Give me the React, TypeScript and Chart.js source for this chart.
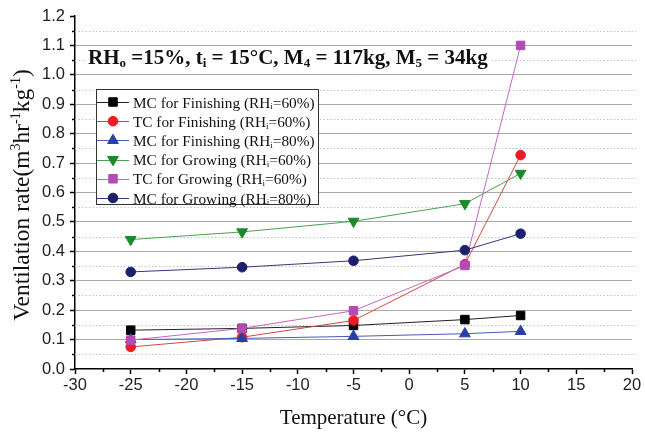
import React, { useEffect, useRef } from 'react';
import { Chart, registerables } from 'chart.js';

Chart.register(...registerables);

// ---------- data ----------
const temperatures = [-25, -15, -5, 5, 10];
const mcFinishing60 = [0.132, 0.138, 0.148, 0.168, 0.182];
const tcFinishing60 = [0.075, 0.108, 0.165, 0.356, 0.727];
const mcFinishing80 = [0.1, 0.104, 0.111, 0.12, 0.128];
const mcGrowing60 = [0.44, 0.466, 0.502, 0.562, 0.665];
const tcGrowing60 = [0.098, 0.138, 0.198, 0.352, 1.1];
const mcGrowing80 = [0.33, 0.346, 0.368, 0.404, 0.46];

const seriesPrefixes = [
  'MC for Finishing (RH',
  'TC for Finishing (RH',
  'MC for Finishing (RH',
  'MC for Growing (RH',
  'TC for Growing (RH',
  'MC for Growing (RH',
];
const seriesSubscript = 'i';
const seriesSuffixes = ['=60%)', '=60%)', '=80%)', '=60%)', '=60%)', '=80%)'];

const xMin = -30;
const xMax = 20;
const xStep = 5;
const yMin = 0;
const yMax = 1.2;
const yStep = 0.1;

const xTitle = 'Temperature (°C)';
type Seg = { t: string; s?: 'sub' | 'sup' };
const yTitle: Seg[] = [
  { t: 'Ventilation rate(m' },
  { t: '3', s: 'sup' },
  { t: 'hr' },
  { t: '-1', s: 'sup' },
  { t: 'kg' },
  { t: '-1', s: 'sup' },
  { t: ')' },
];
const annotation: Seg[] = [
  { t: 'RH' },
  { t: 'o', s: 'sub' },
  { t: ' =15%, t' },
  { t: 'i', s: 'sub' },
  { t: ' = 15°C, M' },
  { t: '4', s: 'sub' },
  { t: ' = 117kg, M' },
  { t: '5', s: 'sub' },
  { t: ' = 34kg' },
];

// ---------- styles ----------
const serif = '"Liberation Serif", "Times New Roman", serif';
const sans = '"Liberation Sans", Arial, sans-serif';

const seriesValues = [mcFinishing60, tcFinishing60, mcFinishing80, mcGrowing60, tcGrowing60, mcGrowing80];
const markerColors = ['#000000', '#ec1c24', '#2b3ea8', '#1b8a2c', '#b24cb4', '#1c1f6c'];
const lineColors = ['#222222', '#cf4a40', '#4a5ab8', '#4f9e52', '#c465c4', '#34387a'];
const pointStyles = ['rect', 'circle', 'triangle', 'triangle', 'rect', 'circle'];
const pointRotations = [0, 0, 0, 180, 0, 0];
const pointRadii = [6, 4.8, 6.2, 6.2, 6, 4.8];

function drawRich(
  ctx: CanvasRenderingContext2D,
  segs: Seg[],
  x: number,
  y: number,
  size: number,
  weight: string,
  align: 'left' | 'center'
) {
  const base = `${weight} ${size}px ${serif}`;
  const small = `${weight} ${Math.round(size * 0.6)}px ${serif}`;
  let w = 0;
  for (const s of segs) {
    ctx.font = s.s ? small : base;
    w += ctx.measureText(s.t).width;
  }
  let cx = align === 'center' ? x - w / 2 : x;
  ctx.textAlign = 'left';
  ctx.textBaseline = 'alphabetic';
  for (const s of segs) {
    ctx.font = s.s ? small : base;
    const dy = s.s === 'sub' ? size * 0.12 : s.s === 'sup' ? -size * 0.4 : 0;
    ctx.fillText(s.t, cx, y + dy);
    cx += ctx.measureText(s.t).width;
  }
  return w;
}

function drawMarker(ctx: CanvasRenderingContext2D, i: number, x: number, y: number) {
  const r = pointRadii[i];
  const style = pointStyles[i];
  ctx.save();
  ctx.fillStyle = markerColors[i];
  ctx.strokeStyle = markerColors[i];
  ctx.lineWidth = 1;
  ctx.beginPath();
  if (style === 'rect') {
    const s = Math.SQRT1_2 * r;
    ctx.rect(x - s, y - s, 2 * s, 2 * s);
  } else if (style === 'circle') {
    ctx.arc(x, y, r, 0, Math.PI * 2);
  } else {
    const rot = (pointRotations[i] * Math.PI) / 180;
    let a = rot;
    ctx.moveTo(x + Math.sin(a) * r, y - Math.cos(a) * r);
    a += (2 * Math.PI) / 3;
    ctx.lineTo(x + Math.sin(a) * r, y - Math.cos(a) * r);
    a += (2 * Math.PI) / 3;
    ctx.lineTo(x + Math.sin(a) * r, y - Math.cos(a) * r);
    ctx.closePath();
  }
  ctx.fill();
  ctx.stroke();
  ctx.restore();
}

const decorPlugin = {
  id: 'decor',
  beforeDatasetsDraw(chart: any) {
    const { ctx, chartArea } = chart;
    const xs = chart.scales.x;
    const ys = chart.scales.y;
    ctx.save();
    // minor dotted grid lines
    ctx.strokeStyle = '#c4c4c4';
    ctx.lineWidth = 1;
    ctx.setLineDash([1.5, 2]);
    for (let v = yMin + yStep / 2; v < yMax; v += yStep) {
      const py = Math.round(ys.getPixelForValue(v)) + 0.5;
      ctx.beginPath();
      ctx.moveTo(chartArea.left, py);
      ctx.lineTo(chartArea.right + 4, py);
      ctx.stroke();
    }
    ctx.setLineDash([]);
    // minor ticks
    ctx.strokeStyle = '#000';
    ctx.lineWidth = 1.5;
    for (let v = yMin + yStep / 2; v < yMax; v += yStep) {
      const py = Math.round(ys.getPixelForValue(v)) + 0.5;
      ctx.beginPath();
      ctx.moveTo(chartArea.left - 3, py);
      ctx.lineTo(chartArea.left, py);
      ctx.stroke();
    }
    for (let v = xMin + xStep / 2; v < xMax; v += xStep) {
      const px = Math.round(xs.getPixelForValue(v)) + 0.5;
      ctx.beginPath();
      ctx.moveTo(px, chartArea.bottom);
      ctx.lineTo(px, chartArea.bottom + 3);
      ctx.stroke();
    }
    ctx.restore();
  },
  afterDraw(chart: any) {
    const { ctx, chartArea } = chart;
    ctx.save();
    // annotation box
    ctx.fillStyle = '#fff';
    ctx.fillRect(86, 48, 406, 23);
    ctx.fillStyle = '#111';
    drawRich(ctx, annotation, 88, 64, 21, 'bold', 'left');

    // legend
    const lx = 96;
    const ly = 89;
    const lw = 222;
    const lh = 115;
    ctx.fillStyle = '#fff';
    ctx.fillRect(lx, ly, lw, lh);
    ctx.strokeStyle = '#333';
    ctx.lineWidth = 1;
    ctx.strokeRect(lx + 0.5, ly + 0.5, lw, lh);
    for (let i = 0; i < seriesPrefixes.length; i++) {
      const cy = ly + 13 + i * 19.2;
      ctx.strokeStyle = lineColors[i];
      ctx.lineWidth = 1;
      ctx.beginPath();
      ctx.moveTo(lx + 1, Math.round(cy) + 0.5);
      ctx.lineTo(lx + 33, Math.round(cy) + 0.5);
      ctx.stroke();
      drawMarker(ctx, i, lx + 17, cy);
      ctx.fillStyle = '#111';
      drawRich(
        ctx,
        [{ t: seriesPrefixes[i] }, { t: seriesSubscript, s: 'sub' }, { t: seriesSuffixes[i] }],
        lx + 37,
        cy + 5.5,
        15.3,
        'normal',
        'left'
      );
    }

    // axis titles
    ctx.fillStyle = '#111';
    ctx.font = `21px ${serif}`;
    ctx.textAlign = 'center';
    ctx.textBaseline = 'middle';
    ctx.fillText(xTitle, (chartArea.left + chartArea.right) / 2, 418);

    ctx.save();
    ctx.translate(23, 195);
    ctx.rotate(-Math.PI / 2);
    drawRich(ctx, yTitle, 0, 6, 23.5, 'normal', 'center');
    ctx.restore();
    ctx.restore();
  },
};

export default function App() {
  const ref = useRef<HTMLCanvasElement | null>(null);
  useEffect(() => {
    document.body.style.margin = '0';
    const canvas = ref.current;
    if (!canvas) return;
    const datasets = seriesValues.map((vals, i) => ({
      label: seriesPrefixes[i] + seriesSubscript + seriesSuffixes[i],
      data: temperatures.map((t, k) => ({ x: t, y: vals[k] })),
      borderColor: lineColors[i],
      backgroundColor: markerColors[i],
      pointBackgroundColor: markerColors[i],
      pointBorderColor: markerColors[i],
      pointBorderWidth: 1,
      pointStyle: pointStyles[i] as any,
      pointRotation: pointRotations[i],
      pointRadius: pointRadii[i],
      borderWidth: 1,
      showLine: true,
      tension: 0,
      order: seriesValues.length - 1 - i,
    }));
    const chart = new Chart(canvas, {
      type: 'scatter',
      data: { datasets },
      options: {
        animation: false,
        responsive: false,
        devicePixelRatio: 1,
        layout: { padding: { left: 0, right: 13, top: 16, bottom: 0 } },
        plugins: { legend: { display: false }, tooltip: { enabled: false } },
        scales: {
          x: {
            type: 'linear',
            min: xMin,
            max: xMax,
            afterFit: (s: any) => {
              s.height = 70;
            },
            ticks: {
              stepSize: xStep,
              color: '#222',
              font: { family: sans, size: 16.5 },
              padding: 2,
              maxRotation: 0,
              callback: (v: any) => String(v),
            },
            grid: {
              drawOnChartArea: false,
              drawTicks: true,
              tickLength: 5,
              tickColor: '#000',
              tickWidth: 1.5,
            },
            border: { color: '#000', width: 1.5 },
          },
          y: {
            type: 'linear',
            min: yMin,
            max: yMax,
            afterFit: (s: any) => {
              s.width = 75;
            },
            ticks: {
              stepSize: yStep,
              color: '#222',
              font: { family: sans, size: 16.5 },
              padding: 5,
              callback: (v: any) => Number(v).toFixed(1),
            },
            grid: {
              color: (c: any) => {
                const v = c.tick ? c.tick.value : 0;
                if (Math.abs(v) < 1e-6 || Math.abs(v - yMax) < 1e-6) return 'rgba(0,0,0,0)';
                return '#a9a9a9';
              },
              lineWidth: 1,
              tickLength: 5,
              tickColor: '#000',
              tickWidth: 1.5,
            },
            border: { color: '#000', width: 1.5 },
          },
        },
      },
      plugins: [decorPlugin],
    });
    return () => chart.destroy();
  }, []);
  return (
    <div style={{ width: 645, height: 439, background: '#fff' }}>
      <canvas ref={ref} width={645} height={439} style={{ display: 'block' }} />
    </div>
  );
}
